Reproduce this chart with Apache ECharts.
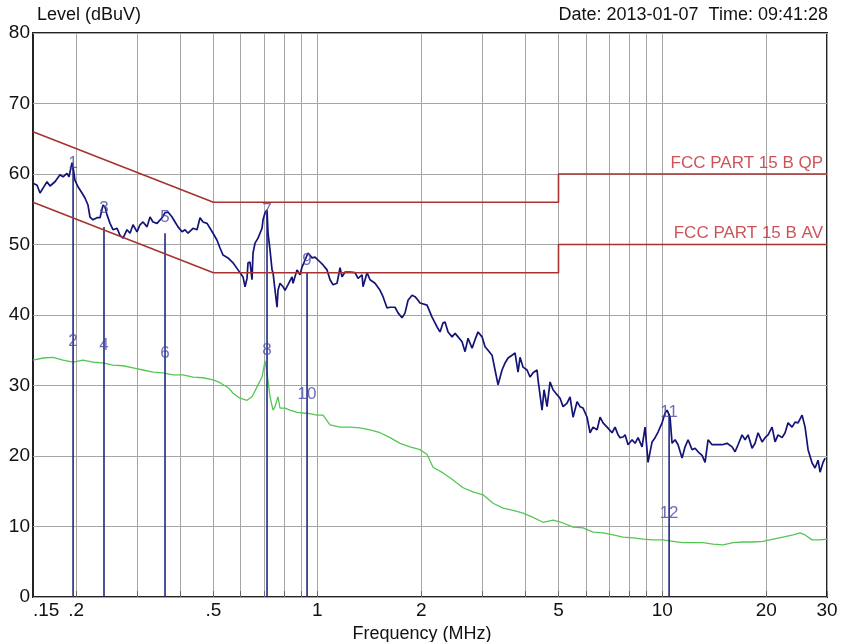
<!DOCTYPE html>
<html><head><meta charset="utf-8">
<script src="https://cdn.jsdelivr.net/npm/echarts@6/dist/echarts.min.js"></script>
<style>html,body{margin:0;padding:0;background:#fff}#c{width:845px;height:642px}</style>
</head><body><div id="c"></div>
<script>
const FONT = "'Liberation Sans Narrow','Arial Narrow','Liberation Sans',Arial,sans-serif";

const xTickFreqs = [0.2,0.3,0.4,0.5,0.6,0.7,0.8,0.9,1,2,3,4,5,6,7,8,9,10,20,30];
const xLabelFreqs = [0.15,0.2,0.5,1,2,5,10,20,30];
const xLabelTexts = ['.15','.2','.5','1','2','5','10','20','30'];

const peakFreq = [0.150,0.1541,0.1572,0.1604,0.1647,0.1680,0.1737,0.1796,0.1833,0.1882,0.1907,0.1946,0.1959,0.1985,0.2025,0.2080,0.2122,0.2165,0.2194,0.2239,0.2299,0.2346,0.2393,0.2426,0.2458,0.2508,0.2558,0.2628,0.2681,0.2735,0.2809,0.2866,0.2924,0.3003,0.3063,0.3126,0.3210,0.3275,0.3341,0.3432,0.3548,0.3620,0.3693,0.3793,0.3870,0.3948,0.4055,0.4137,0.4220,0.4364,0.4482,0.4572,0.4665,0.4791,0.4888,0.4987,0.5122,0.5225,0.5331,0.5511,0.5699,0.5892,0.6092,0.6174,0.6257,0.6298,0.6383,0.6469,0.6512,0.6600,0.6733,0.6915,0.6962,0.7056,0.7150,0.7198,0.7295,0.7393,0.7442,0.7543,0.7644,0.7694,0.7798,0.7956,0.8063,0.8226,0.8448,0.8505,0.8735,0.8911,0.9031,0.9215,0.9400,0.9655,0.9850,1.0049,1.0390,1.0672,1.0887,1.1107,1.1408,1.1638,1.1795,1.2034,1.2441,1.2864,1.3123,1.3479,1.3569,1.3937,1.4218,1.4701,1.5199,1.5507,1.5927,1.6248,1.6800,1.7139,1.7603,1.7960,1.8321,1.8818,1.9199,1.9586,1.9849,2.0800,2.1505,2.2235,2.2683,2.3143,2.3455,2.3927,2.4575,2.5074,2.5578,2.6271,2.6804,2.7344,2.8084,2.8654,2.9231,3.0022,3.0631,3.1248,3.2094,3.2745,3.3404,3.4309,3.5005,3.5710,3.6677,3.7421,3.8174,3.8687,3.9471,4.0540,4.1357,4.2195,4.3338,4.3625,4.4806,4.5409,4.6329,4.7263,4.8219,4.9526,5.0525,5.1547,5.2944,5.4011,5.5105,5.6598,5.7739,5.8907,6.0504,6.1723,6.2973,6.4679,6.5983,6.7319,6.9143,7.1486,7.2936,7.4404,7.5404,7.6931,7.7969,7.9539,8.1693,8.3350,8.5028,8.7330,8.9102,9.0896,9.3357,9.5251,9.7169,9.9800,10.183,10.319,10.527,10.669,10.885,11.104,11.405,11.636,11.871,12.192,12.440,12.690,13.034,13.298,13.566,13.933,14.406,14.895,15.401,15.922,16.245,16.572,17.021,17.367,17.716,18.196,18.565,18.939,19.452,19.846,20.246,20.794,21.216,21.643,22.229,22.680,23.137,23.763,24.245,24.733,25.403,25.919,26.440,27.156,27.707,28.265,28.645,29.225,29.619];
const peakLevel = [58.7,58.4,57.3,58.0,58.9,58.3,58.9,59.9,59.6,60.1,59.6,61.6,61.0,59.1,58.2,57.3,56.6,55.6,53.9,53.5,53.8,53.8,55.6,55.3,54.2,53.0,52.1,52.3,51.3,50.9,52.1,51.6,52.8,51.8,52.8,53.2,52.5,53.9,53.2,53.0,53.8,54.5,54.6,53.9,53.2,52.5,51.8,52.1,51.6,52.3,52.1,53.8,53.2,53.0,52.3,51.6,50.6,49.5,48.5,48.1,47.4,46.4,45.4,44.0,45.2,47.4,47.5,45.0,48.8,50.2,50.9,52.3,53.5,54.5,54.9,51.6,49.2,46.4,46.0,43.5,41.1,43.5,44.5,44.0,43.5,44.3,45.4,44.5,46.4,45.7,46.8,47.8,48.8,48.1,48.2,47.8,47.1,46.4,45.0,44.3,44.5,46.7,45.4,46.1,46.1,46.0,45.2,45.7,44.0,46.0,45.0,44.5,43.5,42.6,41.0,41.1,41.1,40.3,39.6,40.3,42.1,42.8,42.6,42.1,41.7,41.4,39.7,38.3,37.6,38.9,39.0,37.6,36.9,37.4,36.9,36.2,34.8,36.7,35.3,36.5,37.6,36.9,35.5,35.0,34.3,32.2,30.1,32.2,33.2,33.9,34.3,34.6,31.9,34.0,32.6,32.2,31.2,31.8,32.2,30.8,26.5,29.4,27.0,30.5,29.4,28.7,28.2,27.0,27.5,28.4,25.5,27.7,27.0,26.8,25.5,23.3,24.1,23.7,25.5,24.7,24.1,23.3,24.1,23.0,22.6,22.7,23.0,21.6,22.3,21.8,22.6,21.3,24.1,19.1,22.0,22.6,23.4,24.7,26.1,26.5,25.5,21.8,22.3,21.6,19.7,21.3,22.3,20.9,21.1,20.6,20.1,19.1,22.3,21.6,21.6,21.6,21.8,21.3,20.6,21.6,23.0,22.3,23.0,21.1,21.8,23.3,22.0,22.6,23.0,24.1,22.0,23.0,22.6,23.3,24.7,24.1,24.8,24.7,25.8,24.1,20.9,19.0,18.3,19.4,17.7,19.1,19.7];

const avgFreq = [0.150,0.1604,0.1714,0.1833,0.1959,0.2094,0.2239,0.2393,0.2558,0.2735,0.2924,0.3126,0.3341,0.3572,0.3818,0.4082,0.4364,0.4665,0.4987,0.5225,0.5549,0.5699,0.5971,0.6257,0.6469,0.6689,0.6915,0.7056,0.7150,0.7295,0.7442,0.7543,0.7694,0.7798,0.8063,0.8336,0.8735,0.9092,0.9526,0.9983,1.0390,1.0887,1.1638,1.2441,1.3300,1.4218,1.5199,1.6248,1.7369,1.8568,1.9849,2.0800,2.1649,2.3143,2.4740,2.6447,2.8272,3.0223,3.2309,3.4539,3.6922,3.9471,4.2195,4.5107,4.8219,5.1547,5.5105,5.8907,6.2973,6.7319,7.1964,7.6931,8.2240,8.7915,9.3983,10.047,10.740,11.481,12.274,13.121,14.026,14.994,16.029,17.135,18.318,19.582,20.933,22.378,23.922,25.066,25.919,27.156,28.645,30.0];
const avgLevel = [33.6,33.9,34.0,33.6,33.3,33.6,33.3,33.2,32.9,32.8,32.5,32.2,31.9,31.8,31.5,31.5,31.2,31.1,30.8,30.4,29.6,28.9,28.2,27.9,28.4,29.8,31.2,33.5,31.8,28.4,26.5,27.0,28.4,26.8,26.8,26.5,26.2,26.1,26.0,25.8,25.8,24.4,24.1,24.1,24.0,23.7,23.3,22.6,21.8,21.3,20.9,20.2,18.4,17.6,16.6,15.5,14.9,14.5,13.3,12.6,12.3,11.9,11.3,10.6,10.9,10.5,9.9,9.8,9.2,9.1,8.8,8.5,8.4,8.2,8.1,8.1,7.9,7.7,7.7,7.7,7.5,7.4,7.7,7.8,7.8,7.9,8.2,8.5,8.8,9.1,8.8,8.1,8.1,8.2];

const qpLimitFreq = [0.15,0.5,5,5,30];
const qpLimitLevel = [66,56,56,60,60];
const avLimitFreq = [0.15,0.5,5,5,30];
const avLimitLevel = [56,46,46,50,50];
const limitNames = ['FCC PART 15 B QP','FCC PART 15 B AV'];

const markerFreq = [0.196,0.2409,0.362,0.715,0.934,10.46];
const markerTop = [61.0,52.5,51.6,54.6,46.0,26.0];
const qpMarkNum = ['1','3','5','7','9','11'];
const qpMarkLevel = [61.5,55.2,53.9,54.9,47.8,26.2];
const avMarkNum = ['2','4','6','8','10','12'];
const avMarkLevel = [36.2,35.7,34.6,35.0,28.7,11.9];

const lg = Math.log10;
const pts = (fs, vs) => fs.map((f, i) => [lg(f), vs[i]]);

const chart = echarts.init(document.getElementById('c'), null, {renderer: 'canvas'});
chart.setOption({
  animation: false,
  backgroundColor: '#fff',
  textStyle: {fontFamily: FONT},
  title: [
    {text: 'Level (dBuV)', left: 37, top: 6, padding: 0,
     textStyle: {fontSize: 18, fontWeight: 'normal', fontFamily: FONT, color: '#111'}},
    {text: 'Date: 2013-01-07  Time: 09:41:28', right: 17, top: 6, padding: 0,
     textStyle: {fontSize: 18, fontWeight: 'normal', fontFamily: FONT, color: '#111'}}
  ],
  grid: {left: 33, right: 18, top: 33, bottom: 45, outerBoundsMode: 'none', containLabel: false,
         show: true, borderColor: '#222', borderWidth: 2, backgroundColor: '#fff'},
  xAxis: {
    type: 'value', min: lg(0.15), max: lg(30),
    name: 'Frequency (MHz)', nameLocation: 'middle', nameGap: 26,
    nameTextStyle: {fontSize: 18, color: '#111', fontFamily: FONT, padding: [0, 16, 0, 0]},
    axisLine: {show: false},
    axisTick: {show: true, inside: true, length: 6, customValues: xTickFreqs.map(lg), lineStyle: {color: '#666'}},
    axisLabel: {
      customValues: xLabelFreqs.map(lg), fontSize: 19, color: '#111', fontFamily: FONT, margin: 4,
      alignMinLabel: 'left',
      formatter: v => { const i = xLabelFreqs.findIndex(f => Math.abs(lg(f) - v) < 1e-6); return i >= 0 ? xLabelTexts[i] : ''; }
    },
    splitLine: {show: true, lineStyle: {color: '#a6a6a6', width: 1}}
  },
  yAxis: {
    type: 'value', min: 0, max: 80, interval: 10,
    axisLine: {show: false}, axisTick: {show: false},
    axisLabel: {fontSize: 19, color: '#111', fontFamily: FONT, margin: 3},
    splitLine: {show: true, lineStyle: {color: '#a6a6a6', width: 1}}
  },
  series: [
    {type: 'line', name: 'AV', data: pts(avgFreq, avgLevel), symbol: 'none', z: 2,
     lineStyle: {color: '#55c655', width: 1.3}},
    {type: 'custom', name: 'markers', z: 3,
     data: pts(markerFreq, markerTop),
     renderItem: (params, api) => {
       const p0 = api.coord([api.value(0), 0]);
       const p1 = api.coord([api.value(0), api.value(1)]);
       return {type: 'line', shape: {x1: p0[0], y1: p0[1], x2: p1[0], y2: p1[1]},
               style: {stroke: '#1c2a80', lineWidth: 1.6}};
     }},
    {type: 'line', name: 'Peak', data: pts(peakFreq, peakLevel), symbol: 'none', z: 4,
     lineStyle: {color: '#141478', width: 1.7}},
    {type: 'line', name: 'QP limit', data: pts(qpLimitFreq, qpLimitLevel), symbol: 'none', z: 5,
     lineStyle: {color: '#a83232', width: 1.6}},
    {type: 'line', name: 'AV limit', data: pts(avLimitFreq, avLimitLevel), symbol: 'none', z: 5,
     lineStyle: {color: '#a83232', width: 1.6}},
    {type: 'scatter', name: 'limit labels', symbolSize: 0, z: 6,
     data: [[lg(qpLimitFreq[4]), qpLimitLevel[4], limitNames[0]], [lg(avLimitFreq[4]), avLimitLevel[4], limitNames[1]]],
     label: {show: true, position: 'left', distance: 4, offset: [0, -11], formatter: p => p.data[2],
             fontSize: 17, color: '#c0282e', fontFamily: FONT}},
    {type: 'scatter', name: 'qp marks', symbolSize: 0, z: 7,
     data: markerFreq.map((f, i) => [lg(f), qpMarkLevel[i], qpMarkNum[i]]),
     label: {show: true, position: 'inside', formatter: p => p.data[2], fontSize: 17, color: '#4848a8', fontFamily: FONT}},
    {type: 'scatter', name: 'av marks', symbolSize: 0, z: 7,
     data: markerFreq.map((f, i) => [lg(f), avMarkLevel[i], avMarkNum[i]]),
     label: {show: true, position: 'inside', formatter: p => p.data[2], fontSize: 17, color: '#4848a8', fontFamily: FONT}}
  ]
});
</script>
</body></html>
